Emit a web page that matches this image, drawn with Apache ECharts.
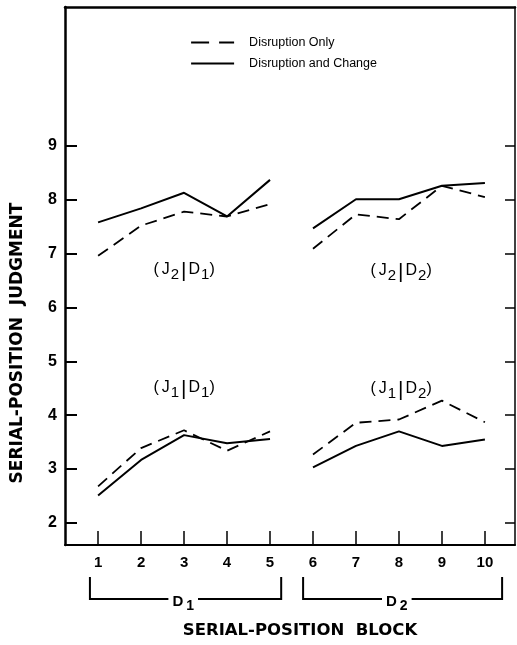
<!DOCTYPE html>
<html>
<head>
<meta charset="utf-8">
<script src="https://cdn.jsdelivr.net/npm/echarts@6/dist/echarts.min.js"></script>
<style>
html,body{margin:0;padding:0;background:#fff;}
#c{width:517px;height:645px;}
</style>
</head>
<body>
<div id="c"></div>
<script>
// ---- data ----
const blocks = [1, 2, 3, 4, 5, 6, 7, 8, 9, 10];
const yTicks = [2, 3, 4, 5, 6, 7, 8, 9];
const seriesNames = ['Disruption Only', 'Disruption and Change'];
// (J2|D) upper curves
const onlyJ2   = [6.96, 7.52, 7.78, 7.69, 7.92, 7.09, 7.73, 7.64, 8.26, 8.05];
const changeJ2 = [7.58, 7.84, 8.13, 7.69, 8.37, 7.47, 8.01, 8.01, 8.26, 8.31];
// (J1|D) lower curves
const onlyJ1   = [2.68, 3.39, 3.72, 3.34, 3.70, 3.27, 3.86, 3.92, 4.27, 3.87];
const changeJ1 = [2.51, 3.17, 3.63, 3.48, 3.56, 3.03, 3.43, 3.70, 3.43, 3.55];

const FONT = '"Liberation Sans", Arial, sans-serif';
const WIDE = '"DejaVu Sans", sans-serif';
const chart = echarts.init(document.getElementById('c'), null, {renderer: 'canvas'});

function seg(name, values, dashed) {
  const out = [];
  [[0, 5], [5, 10]].forEach(([a, b]) => {
    out.push({
      name: name,
      type: 'line',
      symbol: 'none',
      silent: true,
      data: blocks.slice(a, b).map((x, i) => [x, values[a + i]]),
      lineStyle: {color: '#000', width: dashed ? 1.8 : 2, type: dashed ? [12, 7] : 'solid'},
      itemStyle: {color: '#000'}
    });
  });
  return out;
}

const series = [].concat(
  seg(seriesNames[0], onlyJ2, true),
  seg(seriesNames[1], changeJ2, false),
  seg(seriesNames[0], onlyJ1, true),
  seg(seriesNames[1], changeJ1, false)
);

const option = {
  animation: false,
  backgroundColor: '#fff',
  grid: {left: 65, right: 2, top: 7, bottom: 100, show: false},
  legend: {
    data: [
      {name: seriesNames[0], lineStyle: {type: [18, 10], width: 1.8, color: '#000'}},
      {name: seriesNames[1], lineStyle: {type: 'solid', width: 2.2, color: '#000'}}
    ],
    orient: 'vertical',
    left: 185,
    top: 31,
    itemWidth: 43,
    itemHeight: 8,
    itemGap: 8,
    itemStyle: {color: 'rgba(0,0,0,0)', borderColor: 'rgba(0,0,0,0)', borderWidth: 0},
    textStyle: {fontFamily: FONT, fontSize: 12.5, color: '#000', padding: [0, 0, 0, 10]}
  },
  xAxis: [{
    type: 'value', min: 0.23, max: 10.7, position: 'bottom',
    axisLine: {show: true, lineStyle: {color: '#000', width: 2}},
    axisTick: {show: true, inside: true, length: 14, customValues: blocks, lineStyle: {color: '#000', width: 1.5}},
    axisLabel: {customValues: blocks, color: '#000', fontFamily: FONT, fontSize: 15, fontWeight: 'bold', margin: 10},
    splitLine: {show: false}
  }, {
    type: 'value', min: 0.23, max: 10.7, position: 'top',
    axisLine: {show: true, onZero: false, lineStyle: {color: '#000', width: 2.5}},
    axisTick: {show: false}, axisLabel: {show: false}, splitLine: {show: false}
  }],
  yAxis: [{
    type: 'value', min: 1.59, max: 11.58, position: 'left',
    axisLine: {show: true, lineStyle: {color: '#000', width: 2.5}},
    axisTick: {show: true, inside: true, length: 12, customValues: yTicks, lineStyle: {color: '#000', width: 2}},
    axisLabel: {customValues: yTicks, color: '#000', fontFamily: FONT, fontSize: 16, fontWeight: 'bold', margin: 8},
    splitLine: {show: false}
  }, {
    type: 'value', min: 1.59, max: 11.58, position: 'right',
    axisLine: {show: true, onZero: false, lineStyle: {color: '#000', width: 1.5}},
    axisTick: {show: true, inside: true, length: 10, customValues: yTicks, lineStyle: {color: '#000', width: 1.5}},
    axisLabel: {show: false}, splitLine: {show: false}
  }],
  series: series
};
chart.setOption(option);

// ---- annotations ----
function px(x, y) { return chart.convertToPixel({xAxisIndex: 0, yAxisIndex: 0}, [x, y]); }
const rich = {
  n: {fontFamily: FONT, fontSize: 16, color: '#000'},
  p: {fontFamily: FONT, fontSize: 16, color: '#000', padding: [0, 3, 0, 0]},
  s: {fontFamily: FONT, fontSize: 15, color: '#000', padding: [10, 0, 0, 1]},
  b: {fontFamily: FONT, fontSize: 21, color: '#000', padding: [2, 2, 0, 2]}
};
function label(x, y, j, d) {
  const p = px(x, y);
  return {
    type: 'text', x: p[0], y: p[1], silent: true,
    style: {text: '{p|(}{n|J}{s|' + j + '}{b||}{n|D}{s|' + d + '}{n|)}', rich: rich, align: 'center', verticalAlign: 'middle'}
  };
}
const gb = 545; // grid bottom pixel
function bracket(x0, x1, xl, sub) {
  const a = px(x0, 2)[0], b = px(x1, 2)[0], c = px(xl, 2)[0];
  return [
    {type: 'polyline', silent: true, shape: {points: [[a, gb + 32], [a, gb + 54], [b, gb + 54], [b, gb + 32]]},
     style: {stroke: '#000', lineWidth: 2, fill: null}},
    {type: 'text', x: c, y: gb + 57, silent: true,
     style: {text: '{d|D}{t|' + sub + '}', align: 'center', verticalAlign: 'middle', backgroundColor: '#fff', padding: [0, 4, 0, 4],
       rich: {d: {fontFamily: FONT, fontSize: 15, fontWeight: 'bold', color: '#000'}, t: {fontFamily: FONT, fontSize: 14, fontWeight: 'bold', color: '#000', padding: [9, 0, 0, 3]}}}}
  ];
}
chart.setOption({
  graphic: [].concat(
    [label(3, 6.70, '2', '1'), label(8.05, 6.68, '2', '2'), label(3, 4.51, '1', '1'), label(8.05, 4.49, '1', '2')],
    bracket(0.81, 5.26, 2.98, '1'),
    bracket(5.77, 10.4, 7.95, '2'),
    [{type: 'text', x: 300, y: 631, silent: true,
      style: {text: 'SERIAL-POSITION  BLOCK', fontFamily: WIDE, fontSize: 16.5, fontWeight: 'bold', fill: '#000', align: 'center', verticalAlign: 'middle'}},
     {type: 'text', x: 18, y: 343, rotation: Math.PI / 2, silent: true,
      style: {text: 'SERIAL-POSITION  JUDGMENT', fontFamily: WIDE, fontSize: 17, fontWeight: 'bold', fill: '#000', align: 'center', verticalAlign: 'middle'}}]
  )
});
</script>
</body>
</html>
